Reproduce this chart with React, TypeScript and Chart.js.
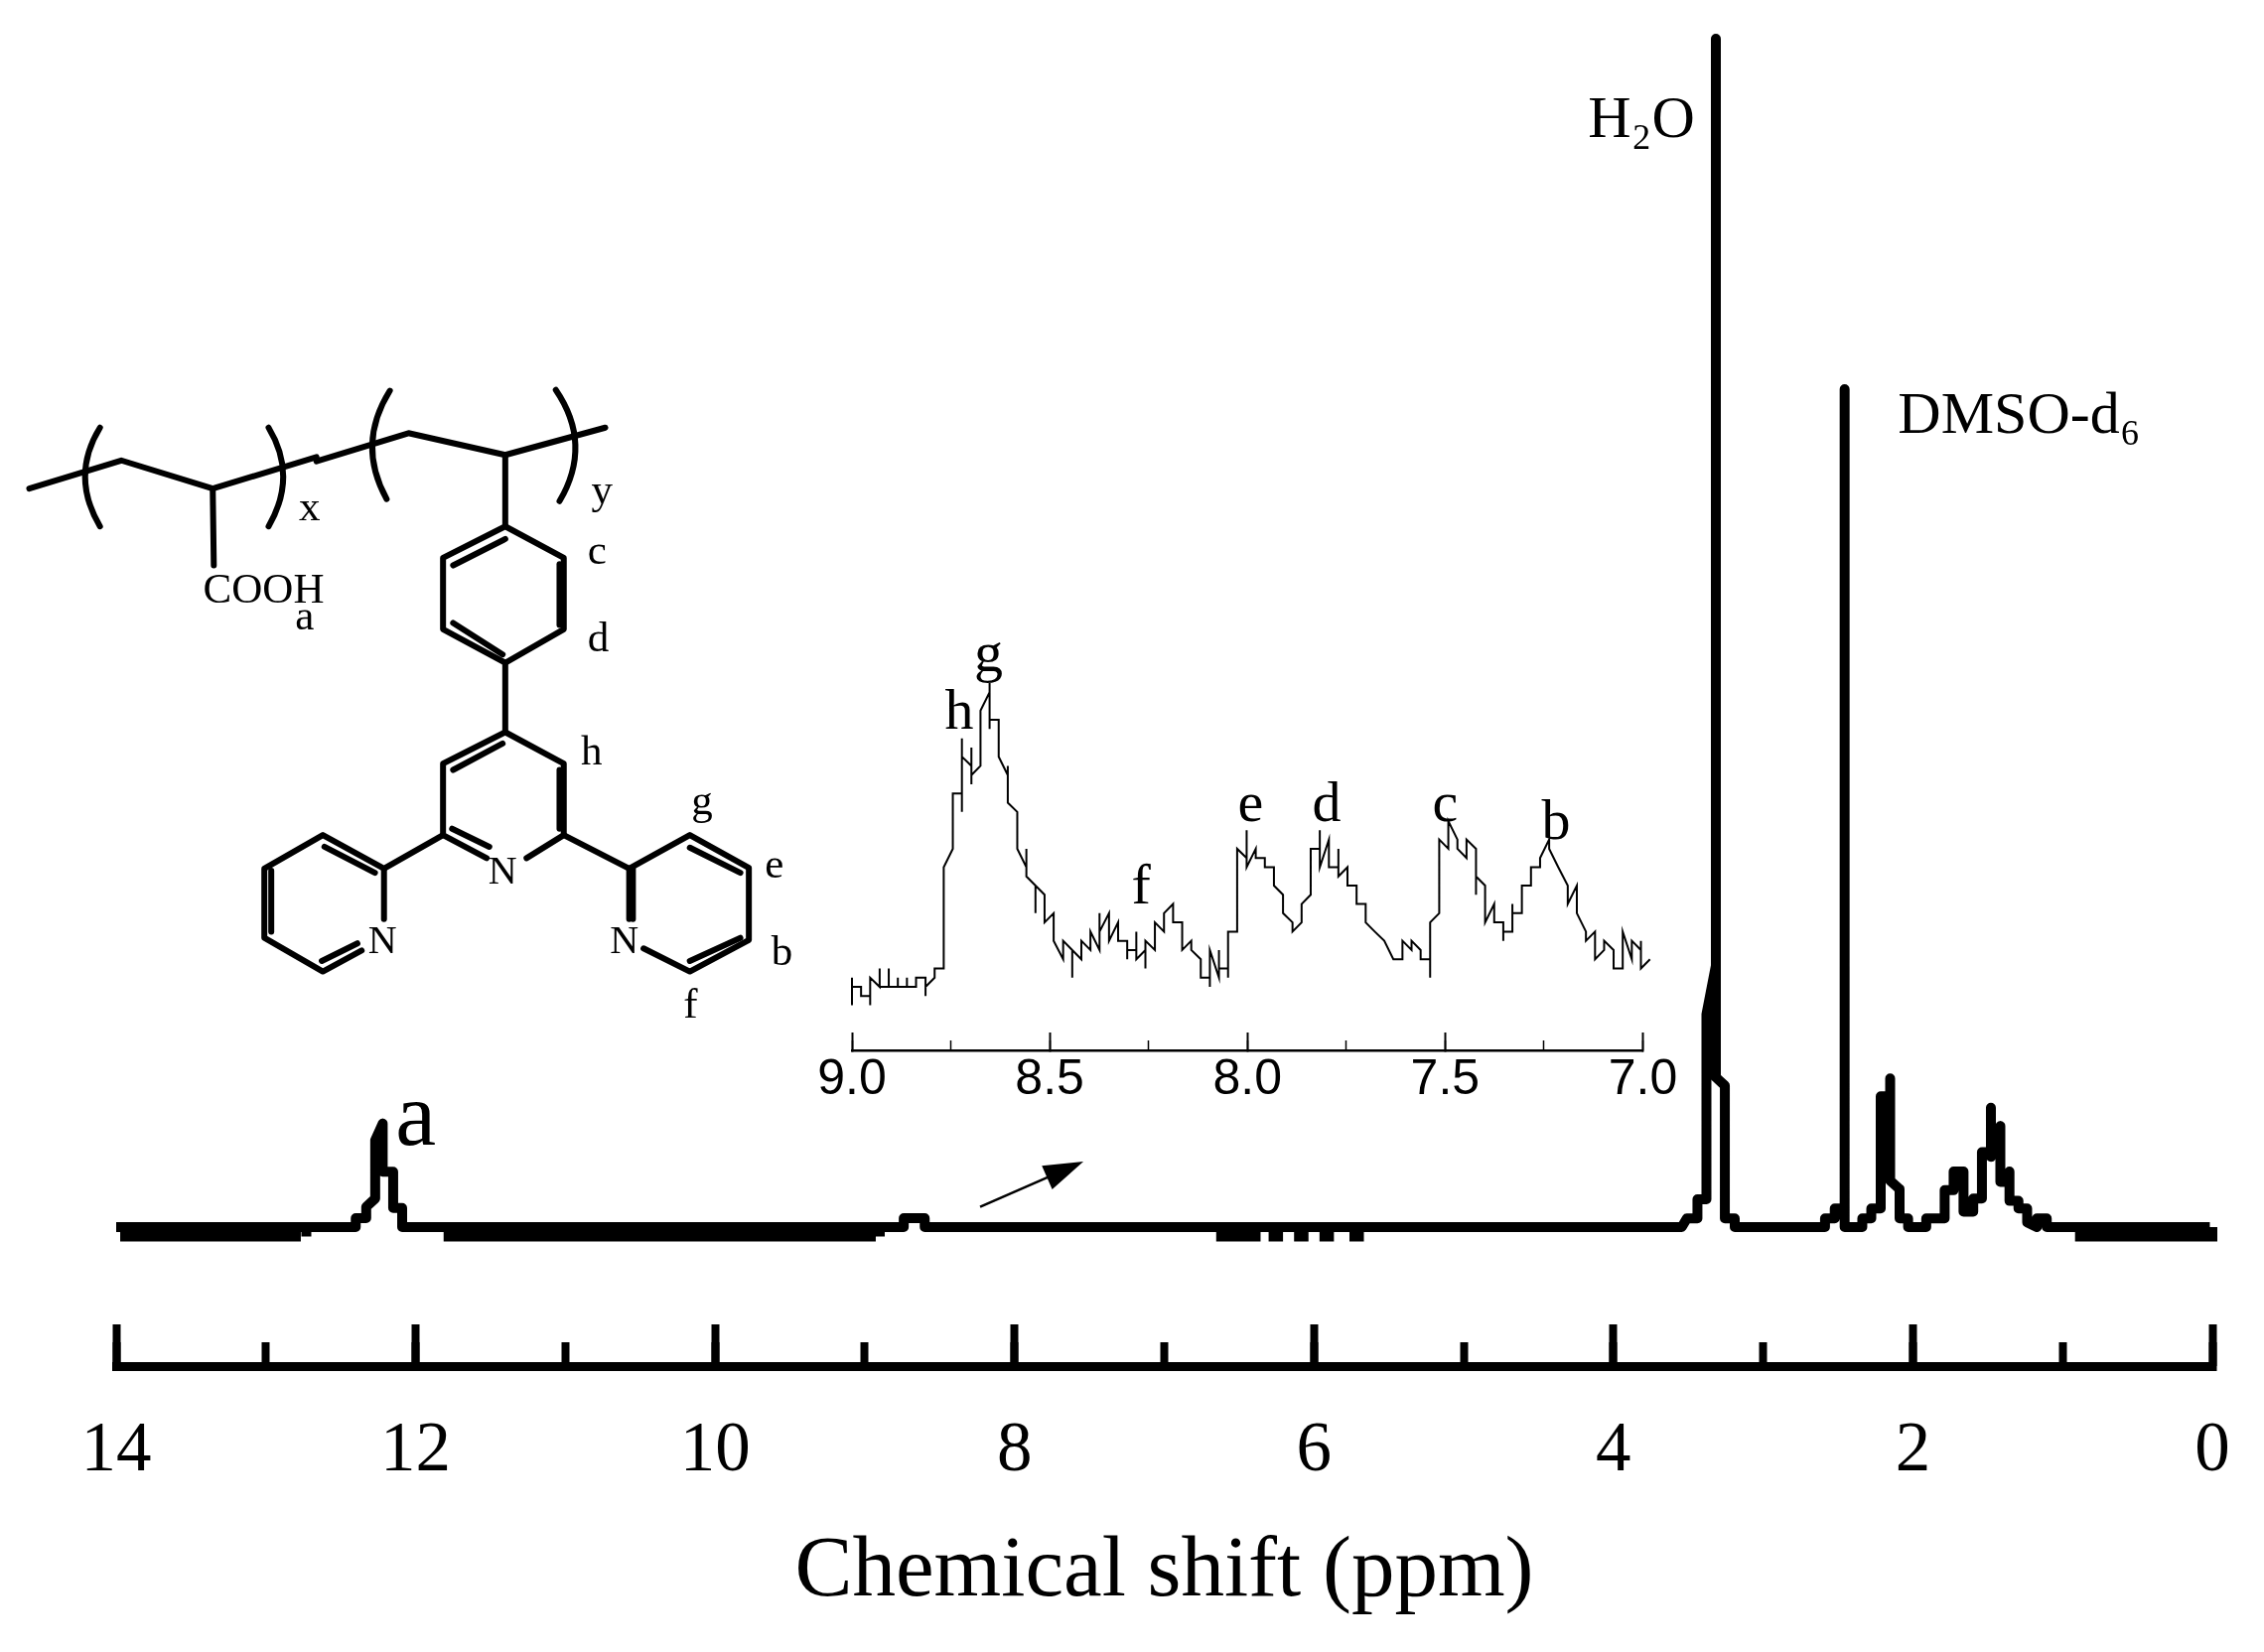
import React, { useEffect, useRef } from 'react';
import Chart from 'chart.js/auto';

type Pair = [number, number];

// Main spectrum as [ppm, intensity], H2O peak = 100
const noiseHigh: Pair[] = [
  [14, 0], [13.94, -0.8], [13.88, 0], [13.82, -0.8], [13.76, 0], [13.7, -0.8], [13.64, 0], [13.58, -0.8],
  [13.52, 0], [13.46, -0.8], [13.4, 0], [13.34, -0.8], [13.28, 0], [13.22, -0.8], [13.16, 0], [13.1, -0.8],
  [13.04, 0], [12.98, -0.8], [12.92, 0], [12.86, -0.8], [12.8, 0], [12.73, -0.8],
];
const peakA: Pair[] = [
  [12.73, 0], [12.4, 0], [12.4, 0.75], [12.33, 0.75], [12.33, 1.7], [12.27, 2.4], [12.27, 7.3], [12.22, 8.7], [12.22, 4.65],
  [12.15, 4.65], [12.15, 1.6], [12.09, 1.6], [12.09, 0], [11.84, 0],
];
const noiseMid: Pair[] = [
  [11.84, 0], [11.78, -0.8], [11.72, 0], [11.66, -0.8], [11.6, 0], [11.54, -0.8], [11.48, 0], [11.42, -0.8], [11.36, 0],
  [11.3, -0.8], [11.24, 0], [11.18, -0.8], [11.12, 0], [11.06, -0.8], [11.0, 0], [10.94, -0.8], [10.88, 0],
  [10.82, -0.8], [10.76, 0], [10.7, -0.8], [10.64, 0], [10.58, -0.8], [10.52, 0], [10.46, -0.8], [10.4, 0],
  [10.34, -0.8], [10.28, 0], [10.22, -0.8], [10.16, 0], [10.1, -0.8], [10.04, 0], [9.98, -0.8], [9.92, 0],
  [9.86, -0.8], [9.8, 0], [9.74, -0.8], [9.68, 0], [9.62, -0.8], [9.56, 0], [9.5, -0.8], [9.44, 0],
  [9.38, -0.8], [9.32, 0], [9.26, -0.8], [9.2, 0], [9.14, -0.8], [9.08, 0], [9.02, -0.8], [8.96, 0], [8.9, -0.8],
];
const flatMiddle: Pair[] = [[8.9, 0], [8.74, 0], [8.74, 0.75], [8.6, 0.75], [8.6, 0], [6.65, 0]];
const gapNoise: Pair[] = [
  [6.65, 0], [6.62, -0.8], [6.56, 0], [6.52, -0.8], [6.47, 0], [6.43, -0.8], [6.39, 0], [6.29, 0], [6.27, -0.8],
  [6.24, 0], [6.12, 0], [6.1, -0.8], [6.07, 0], [5.95, 0], [5.93, -0.8], [5.9, 0], [5.75, 0], [5.73, -0.8], [5.7, 0],
];
const waterDmso: Pair[] = [
  [5.7, 0], [3.544, 0], [3.51, 0.72], [3.439, 0.72], [3.439, 2.34], [3.379, 2.34], [3.379, 17.9], [3.316, 22], [3.316, 100],
  [3.316, 12.6], [3.256, 11.9], [3.256, 0.72], [3.19, 0.72], [3.19, 0], [2.587, 0], [2.587, 0.72], [2.522, 0.72],
  [2.522, 1.56], [2.456, 1.56], [2.456, 70.5], [2.456, 0], [2.338, 0],
];
const aliphatic: Pair[] = [
  [2.338, 0.72], [2.278, 0.72], [2.278, 1.56], [2.215, 1.56], [2.215, 11], [2.152, 11], [2.152, 12.5], [2.152, 3.9],
  [2.089, 3.2], [2.089, 0.72], [2.032, 0.72], [2.032, 0], [1.911, 0], [1.911, 0.72], [1.788, 0.72], [1.788, 3.1],
  [1.728, 3.1], [1.728, 4.68], [1.662, 4.68], [1.662, 1.3], [1.597, 1.3], [1.597, 2.4], [1.539, 2.4], [1.539, 6.3],
  [1.479, 6.3], [1.479, 10.05], [1.479, 5.9], [1.416, 8.5], [1.416, 3.8], [1.355, 3.8], [1.355, 4.68], [1.355, 2.2],
  [1.295, 2.2], [1.295, 1.56], [1.237, 1.56], [1.237, 0.4], [1.172, 0], [1.172, 0.72], [1.106, 0.72], [1.106, 0], [0.923, 0],
];
const noiseLow: Pair[] = [
  [0.923, 0], [0.884, -0.8], [0.83, 0], [0.77, -0.8], [0.71, 0], [0.65, -0.8], [0.59, 0], [0.53, -0.8], [0.47, 0], [0.41, -0.8],
  [0.35, 0], [0.29, -0.8], [0.23, 0], [0.17, -0.8], [0.11, 0], [0.05, -0.8], [0, 0],
];

// The digitised noise is a square wave: hold the last level until the next reading
const stairs = (list: Pair[]): Pair[] =>
  list.flatMap(([x, y], i): Pair[] => (i === 0 ? [[x, y]] : [[x, list[i - 1][1]], [x, y]]));

const signalParts = [peakA, flatMiddle, [...waterDmso, ...aliphatic]];
const noiseParts = [noiseHigh, noiseMid, gapNoise, noiseLow].map(stairs);

// Inset spectrum: ppm of each digitised step and the levels the trace visits there
const insetShift = [
  9.0, 8.977, 8.954, 8.93, 8.907, 8.884, 8.861, 8.838, 8.814, 8.791, 8.768, 8.745, 8.722, 8.698, 8.675, 8.652, 8.629, 8.606,
  8.582, 8.559, 8.536, 8.513, 8.49, 8.466, 8.443, 8.42, 8.397, 8.374, 8.35, 8.327, 8.304, 8.281, 8.258, 8.234, 8.211, 8.188,
  8.165, 8.142, 8.118, 8.095, 8.072, 8.049, 8.026, 8.002, 7.979, 7.956, 7.933, 7.91, 7.886, 7.863, 7.84, 7.817, 7.794, 7.77,
  7.747, 7.724, 7.701, 7.678, 7.654, 7.631, 7.608, 7.585, 7.562, 7.538, 7.515, 7.492, 7.469, 7.446, 7.422, 7.399, 7.376, 7.353,
  7.33, 7.306, 7.283, 7.26, 7.237, 7.214, 7.19, 7.167, 7.144, 7.121, 7.098, 7.074, 7.051, 7.028, 7.005, 6.982,
];
const insetLevels = [
  [0, 3, 2], [2, 1], [1, 0, 3], [2, 4, 2], [2, 4, 2], [2, 3, 2], [2, 3, 2], [2, 3], [3, 1, 2], [3, 4], [4, 15], [17, 23],
  [23, 29, 21, 27], [26, 28, 24, 25], [26, 32], [34, 35, 30, 31], [31, 27], [25, 26, 22], [21, 17], [15, 17, 14], [13, 10, 13],
  [12, 9], [10, 7], [5, 7], [6, 3, 6], [5, 7], [6, 8], [6, 10, 8], [10, 7], [9, 7], [7, 5, 6], [6, 8, 5], [6, 4, 7], [6, 9],
  [8, 10], [11, 9], [9, 6], [7, 6], [5, 3], [3, 2, 6], [3, 6, 4], [4, 3, 8], [8, 17], [16, 19, 15], [17, 16], [16, 15], [15, 13],
  [12, 10], [9, 8], [9, 11], [12, 17], [17, 19, 15], [18, 15], [15, 17, 14], [15, 13], [13, 11], [11, 9], [8], [7], [5], [5, 7],
  [6, 7], [6, 5], [5, 3, 9], [10, 18], [17, 20], [18, 17], [16, 18], [17, 12, 14], [13, 9], [11, 9], [9, 7, 8], [8, 11, 10],
  [10, 13], [13, 15], [15, 16], [18, 17], [15], [13, 11], [13, 10], [8, 7], [8, 5], [6, 7], [6, 4], [4, 8], [5, 7], [6, 7, 4], [5],
];
const insetTrace = insetShift.flatMap((ppm, i) => insetLevels[i].map((level) => ({ x: ppm, y: level })));

// Labels placed in data coordinates
const mainLabels = ['a', 'H\u2082O', 'DMSO-d\u2086'];
const mainLabelShift = [12.0, 4.17, 2.1];
const mainLabelValue = [6.96, 91.7, 66.8];
const insetLabels = ['h', 'g', 'f', 'e', 'd', 'c', 'b'];
const insetLabelShift = [8.729, 8.655, 8.269, 7.992, 7.8, 7.5, 7.22];
const insetLabelLevel = [30, 36.3, 11.1, 20, 20, 20, 18.1];
const arrowShift = [8.23, 7.54];
const arrowValue = [1.7, 5.5];

const SERIF = '"Liberation Serif", serif';
const SANS = '"Liberation Sans", sans-serif';

// Molecule drawing, in coordinates of a 1568x1560 sketch over the region below
const toX = (v: number) => v / 1.867;
const toY = (v: number) => 380 + v / 2.364;
const bonds: number[][] = [
  [55, 265, 228, 198, 400, 265, 595, 190],
  [595, 200, 768, 133, 950, 185, 1138, 120],
  [400, 265, 402, 448],
  [950, 185, 950, 355],
  [950, 355, 833, 430, 833, 600, 950, 680, 1060, 600, 1060, 430, 950, 355],
  [950, 385, 852, 448],
  [852, 585, 945, 660],
  [1052, 445, 1052, 590],
  [950, 680, 950, 845],
  [915, 1145, 833, 1090, 833, 920, 950, 845, 1060, 920, 1060, 1090, 990, 1145],
  [945, 872, 852, 935],
  [850, 1075, 920, 1118],
  [1052, 935, 1052, 1075],
  [1060, 1090, 1183, 1170, 1297, 1090, 1408, 1168, 1408, 1340, 1297, 1415, 1210, 1360],
  [1183, 1170, 1183, 1290],
  [1190, 1170, 1190, 1290],
  [1297, 1120, 1392, 1180],
  [1392, 1335, 1297, 1390],
  [833, 1090, 722, 1170, 607, 1090, 497, 1170, 497, 1335, 607, 1415, 680, 1365],
  [722, 1170, 722, 1290],
  [610, 1118, 705, 1180],
  [510, 1175, 510, 1320],
  [605, 1390, 672, 1348],
];
const brackets: number[][] = [
  [188, 120, 132, 235, 188, 355],
  [505, 120, 560, 235, 505, 355],
  [733, 32, 670, 160, 727, 290],
  [1045, 30, 1115, 160, 1052, 295],
];
const atomLabels: [string, number, number][] = [
  ['COOH', 382, 537], ['a', 555, 600], ['x', 562, 340], ['y', 1112, 300], ['c', 1105, 445], ['d', 1105, 652],
  ['h', 1092, 922], ['g', 1300, 1040], ['e', 1438, 1192], ['b', 1450, 1400], ['f', 1285, 1525],
  ['N', 918, 1205], ['N', 692, 1372], ['N', 1147, 1372],
];

const labelPlugin = (
  id: string,
  labels: string[],
  xs: number[],
  ys: number[],
  font: string,
  align: (i: number) => CanvasTextAlign
) => ({
  id,
  afterDatasetsDraw(chart: any) {
    const { ctx, scales } = chart;
    ctx.save();
    ctx.fillStyle = '#000';
    labels.forEach((text, i) => {
      const big = text === 'a';
      ctx.font = big ? `92px ${SERIF}` : font;
      ctx.textAlign = align(i);
      ctx.textBaseline = 'alphabetic';
      ctx.fillText(text, scales.x.getPixelForValue(xs[i]), scales.y.getPixelForValue(ys[i]));
    });
    ctx.restore();
  },
});

const arrowPlugin = {
  id: 'arrow',
  afterDatasetsDraw(chart: any) {
    const { ctx, scales } = chart;
    const x1 = scales.x.getPixelForValue(arrowShift[0]);
    const y1 = scales.y.getPixelForValue(arrowValue[0]);
    const x2 = scales.x.getPixelForValue(arrowShift[1]);
    const y2 = scales.y.getPixelForValue(arrowValue[1]);
    const a = Math.atan2(y2 - y1, x2 - x1);
    ctx.save();
    ctx.strokeStyle = '#000';
    ctx.fillStyle = '#000';
    ctx.lineWidth = 2.5;
    ctx.beginPath();
    ctx.moveTo(x1, y1);
    ctx.lineTo(x2 - 20 * Math.cos(a), y2 - 20 * Math.sin(a));
    ctx.stroke();
    ctx.translate(x2, y2);
    ctx.rotate(a);
    ctx.beginPath();
    ctx.moveTo(0, 0);
    ctx.lineTo(-40, -13);
    ctx.lineTo(-40, 13);
    ctx.closePath();
    ctx.fill();
    ctx.restore();
  },
};

const Molecule: React.FC = () => (
  <svg width={2280} height={1664} style={{ position: 'absolute', left: 0, top: 0 }}>
    <g fill="none" stroke="#000" strokeWidth={6} strokeLinejoin="round" strokeLinecap="round">
      {bonds.map((b, i) => (
        <polyline
          key={i}
          points={b.map((v, j) => (j % 2 === 0 ? toX(v) : toY(v))).join(' ')}
        />
      ))}
      {brackets.map((b, i) => (
        <path
          key={i}
          d={`M${toX(b[0])} ${toY(b[1])} Q${toX(b[2])} ${toY(b[3])} ${toX(b[4])} ${toY(b[5])}`}
        />
      ))}
    </g>
    {atomLabels.map(([text, x, y], i) => (
      <text key={i} x={toX(x)} y={toY(y)} fontFamily={SERIF} fontSize={text === 'N' ? 40 : 43} fill="#000">
        {text}
      </text>
    ))}
  </svg>
);

const traceDataset = (part: Pair[], join: CanvasLineJoin, cap: CanvasLineCap) => ({
  data: part.map(([x, y]) => ({ x, y })),
  borderColor: '#000',
  borderWidth: 10,
  borderCapStyle: cap,
  borderJoinStyle: join,
  pointRadius: 0,
  tension: 0,
  clip: false,
});

// Tick padding feeds into the scale's side padding, so fix the box by hand
const fixBox = (height: number) => (scale: any) => {
  scale.height = height;
  scale.paddingLeft = 0;
  scale.paddingRight = 0;
};

const App: React.FC = () => {
  const mainRef = useRef<HTMLCanvasElement>(null);
  const insetRef = useRef<HTMLCanvasElement>(null);

  useEffect(() => {
    if (!mainRef.current || !insetRef.current) return;

    const mainChart = new Chart(mainRef.current, {
      type: 'line',
      data: {
        datasets: [
          ...signalParts.map((part) => traceDataset(part, 'round', 'round')),
          ...noiseParts.map((part) => traceDataset(part, 'miter', 'butt')),
        ],
      },
      options: {
        responsive: false,
        animation: false,
        devicePixelRatio: 1,
        layout: { autoPadding: false, padding: { left: 117, right: 52, top: 39, bottom: 0 } },
        plugins: { legend: { display: false }, tooltip: { enabled: false } },
        scales: {
          x: {
            type: 'linear',
            position: 'bottom',
            weight: 1,
            reverse: true,
            min: 0,
            max: 14,
            ticks: {
              stepSize: 2,
              autoSkip: false,
              maxRotation: 0,
              padding: 86,
              color: '#000',
              font: { family: SERIF, size: 71 },
            },
            grid: { drawOnChartArea: false, tickLength: -42, tickWidth: 8, tickColor: '#000' },
            border: { display: true, width: 9, color: '#000' },
            title: {
              display: true,
              text: 'Chemical shift (ppm)',
              color: '#000',
              font: { family: SERIF, size: 87 },
              padding: { top: 0, bottom: 28 },
            },
            afterFit: fixBox(288),
          },
          xMinor: {
            type: 'linear',
            position: 'bottom',
            weight: 0,
            reverse: true,
            min: 0,
            max: 14,
            ticks: { stepSize: 1, autoSkip: false, display: false },
            grid: { drawOnChartArea: false, tickLength: -24, tickWidth: 8, tickColor: '#000' },
            border: { display: false },
            afterFit: fixBox(0),
          },
          y: { display: false, min: -11.7, max: 100 },
        },
      },
      plugins: [
        labelPlugin('mainLabels', mainLabels, mainLabelShift, mainLabelValue, `60px ${SERIF}`, (i) =>
          i === 0 ? 'center' : 'left'
        ),
        arrowPlugin,
      ],
    });

    const insetChart = new Chart(insetRef.current, {
      type: 'line',
      data: {
        datasets: [
          {
            data: insetTrace,
            borderColor: '#000',
            borderWidth: 2,
            pointRadius: 0,
            tension: 0,
            clip: false,
          },
        ],
      },
      options: {
        responsive: false,
        animation: false,
        devicePixelRatio: 1,
        layout: { autoPadding: false, padding: { left: 58, right: 95.5, top: 68, bottom: 0 } },
        plugins: { legend: { display: false }, tooltip: { enabled: false } },
        scales: {
          x: {
            type: 'linear',
            position: 'bottom',
            weight: 1,
            reverse: true,
            min: 7,
            max: 9,
            ticks: {
              stepSize: 0.5,
              autoSkip: false,
              maxRotation: 0,
              padding: 18,
              color: '#000',
              font: { family: SANS, size: 50 },
              callback: (value: any) => Number(value).toFixed(1),
            },
            grid: { drawOnChartArea: false, tickLength: -18, tickWidth: 2, tickColor: '#000' },
            border: { display: true, width: 2.5, color: '#000' },
            afterFit: fixBox(102),
          },
          xMinor: {
            type: 'linear',
            position: 'bottom',
            weight: 0,
            reverse: true,
            min: 7,
            max: 9,
            ticks: { stepSize: 0.25, autoSkip: false, display: false },
            grid: { drawOnChartArea: false, tickLength: -10, tickWidth: 1.5, tickColor: '#000' },
            border: { display: false },
            afterFit: fixBox(0),
          },
          y: { display: false, min: -4.9, max: 35 },
        },
      },
      plugins: [
        labelPlugin('insetLabels', insetLabels, insetLabelShift, insetLabelLevel, `58px ${SERIF}`, () => 'center'),
      ],
    });

    return () => {
      mainChart.destroy();
      insetChart.destroy();
    };
  }, []);

  return (
    <div style={{ position: 'absolute', left: 0, top: 0, width: 2280, height: 1664, background: '#fff', overflow: 'hidden' }}>
      <canvas ref={mainRef} width={2280} height={1664} style={{ position: 'absolute', left: 0, top: 0 }} />
      <canvas ref={insetRef} width={950} height={540} style={{ position: 'absolute', left: 800, top: 620 }} />
      <Molecule />
    </div>
  );
};

export default App;
